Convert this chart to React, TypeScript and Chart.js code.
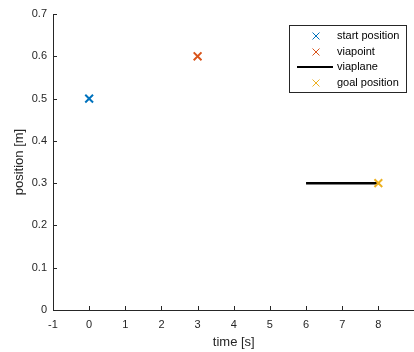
import React, { useEffect, useRef } from "react";
import { Chart, registerables } from "chart.js";

Chart.register(...registerables);

const startPos = [{ x: 0, y: 0.5 }];
const viaPoint = [{ x: 3, y: 0.6 }];
const viaPlane = [{ x: 6, y: 0.3 }, { x: 8, y: 0.3 }];
const goalPos = [{ x: 8, y: 0.3 }];
const legendLabels = ["start position", "viapoint", "viaplane", "goal position"];
const xTickValues = [-1, 0, 1, 2, 3, 4, 5, 6, 7, 8];
const yTickValues = [0, 0.1, 0.2, 0.3, 0.4, 0.5, 0.6, 0.7];

const BLUE = "#0072BD";
const ORANGE = "#D95319";
const YELLOW = "#EDB120";
const AXIS = "#262626";
const FONT = "'Liberation Sans', Arial, sans-serif";

const decorPlugin = {
  id: "decor",
  afterDraw(chart: any) {
    const ctx = chart.ctx;
    const xs = chart.scales.x;
    const ys = chart.scales.y;
    const area = chart.chartArea;
    ctx.save();
    ctx.strokeStyle = AXIS;
    ctx.lineWidth = 1;
    ctx.beginPath();
    for (const v of xTickValues) {
      const px = Math.round(xs.getPixelForValue(v)) + 0.5;
      ctx.moveTo(px, area.bottom);
      ctx.lineTo(px, area.bottom - 4);
    }
    for (const v of yTickValues) {
      const py = Math.round(ys.getPixelForValue(v)) + 0.5;
      ctx.moveTo(area.left, py);
      ctx.lineTo(area.left + 4, py);
    }
    ctx.stroke();

    // legend
    const bx = 289.5, by = 25.5, bw = 117, bh = 67;
    ctx.fillStyle = "#ffffff";
    ctx.fillRect(bx, by, bw, bh);
    ctx.strokeStyle = AXIS;
    ctx.lineWidth = 1;
    ctx.strokeRect(bx, by, bw, bh);
    const rows = [36, 52, 67, 83];
    const colors = [BLUE, ORANGE, "#000000", YELLOW];
    const mx = 316;
    ctx.font = `11px ${FONT}`;
    ctx.textBaseline = "middle";
    ctx.textAlign = "left";
    rows.forEach((ry, i) => {
      if (i === 2) {
        ctx.strokeStyle = "#000";
        ctx.lineWidth = 2;
        ctx.beginPath();
        ctx.moveTo(297, ry);
        ctx.lineTo(333, ry);
        ctx.stroke();
      } else {
        ctx.strokeStyle = colors[i];
        ctx.lineWidth = 1;
        const h = 3.5;
        ctx.beginPath();
        ctx.moveTo(mx - h, ry - h);
        ctx.lineTo(mx + h, ry + h);
        ctx.moveTo(mx + h, ry - h);
        ctx.lineTo(mx - h, ry + h);
        ctx.stroke();
      }
      ctx.fillStyle = "#000";
      ctx.fillText(legendLabels[i], 337, ry);
    });
    ctx.restore();
  },
};

export default function App() {
  const ref = useRef<HTMLCanvasElement>(null);
  useEffect(() => {
    if (!ref.current) return;
    const markerCommon = {
      pointStyle: "crossRot",
      pointRadius: 5.5,
      pointBorderWidth: 2,
      showLine: false,
    };
    const chart = new Chart(ref.current, {
      type: "scatter",
      data: {
        datasets: [
          { label: legendLabels[0], data: startPos, borderColor: BLUE, backgroundColor: BLUE, order: 0, ...markerCommon } as any,
          { label: legendLabels[1], data: viaPoint, borderColor: ORANGE, backgroundColor: ORANGE, order: 0, ...markerCommon } as any,
          { label: legendLabels[2], type: "line", data: viaPlane, borderColor: "#000", backgroundColor: "#000", borderWidth: 2.5, pointRadius: 0, showLine: true, order: 2 } as any,
          { label: legendLabels[3], data: goalPos, borderColor: YELLOW, backgroundColor: YELLOW, order: 0, ...markerCommon } as any,
        ],
      },
      options: {
        animation: false,
        responsive: false,
        devicePixelRatio: 1,
        layout: { padding: { left: 8, right: 6, top: 14, bottom: 0 } },
        plugins: { legend: { display: false }, tooltip: { enabled: false } },
        scales: {
          x: {
            type: "linear",
            min: -1,
            max: 9,
            grid: { display: false, drawTicks: false },
            border: { display: true, color: AXIS, width: 1 },
            afterBuildTicks: (s: any) => {
              s.ticks = xTickValues.map((v) => ({ value: v }));
            },
            afterFit: (s: any) => {
              s.height = 42;
            },
            ticks: {
              color: AXIS,
              padding: 8,
              font: { family: FONT, size: 11 },
              maxRotation: 0,
            },
            title: {
              display: true,
              text: "time [s]",
              color: AXIS,
              font: { family: FONT, size: 13 },
              padding: { top: 0, bottom: 2 },
            },
          },
          y: {
            type: "linear",
            min: 0,
            max: 0.7,
            grid: { display: false, drawTicks: false },
            border: { display: true, color: AXIS, width: 1 },
            afterBuildTicks: (s: any) => {
              s.ticks = yTickValues.map((v) => ({ value: v }));
            },
            afterFit: (s: any) => {
              s.width = 45;
            },
            ticks: {
              color: AXIS,
              padding: 6,
              font: { family: FONT, size: 11 },
              callback: (v: any) => String(Math.round(Number(v) * 10) / 10),
            },
            title: {
              display: true,
              text: "position [m]",
              color: AXIS,
              font: { family: FONT, size: 13 },
              padding: { top: 4, bottom: 4 },
            },
          },
        },
      },
      plugins: [decorPlugin],
    });
    return () => chart.destroy();
  }, []);
  return (
    <div style={{ position: "fixed", left: 0, top: 0, width: 414, height: 352, overflow: "hidden", background: "#fff" }}>
      <canvas ref={ref} width={422} height={352} style={{ display: "block" }} />
    </div>
  );
}
